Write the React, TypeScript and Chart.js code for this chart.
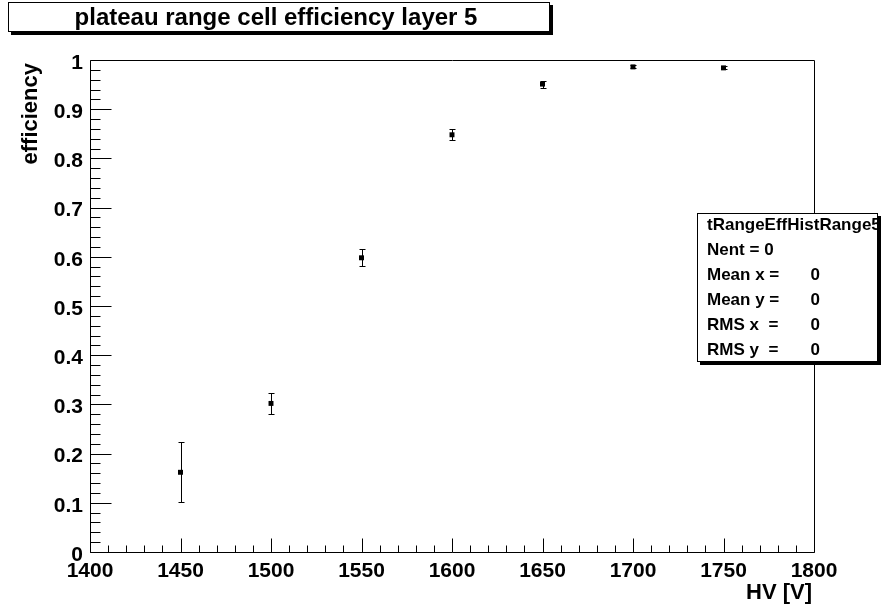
import React, { useEffect, useRef } from "react";
import { Chart, registerables } from "chart.js";

Chart.register(...registerables);

// ---- data ----
const HV_VALUES = [1450, 1500, 1550, 1600, 1650, 1700, 1750];
const EFFICIENCY = [0.162, 0.302, 0.598, 0.848, 0.951, 0.986, 0.984];
const EFFICIENCY_ERR = [0.061, 0.022, 0.0175, 0.0115, 0.007, 0.003, 0.003];

// ---- axes ----
const X_MIN = 1400;
const X_MAX = 1800;
const X_MAJOR = 50;
const X_MINOR = 10;
const Y_MIN = 0;
const Y_MAX = 1;
const Y_MAJOR = 0.1;
const Y_MINOR = 0.02;

// ---- text ----
const TITLE = "plateau range cell efficiency layer 5";
const X_TITLE = "HV [V]";
const Y_TITLE = "efficiency";
const STATS_NAME = "tRangeEffHistRange5";
const STATS_LABELS = ["Nent = 0", "Mean x = ", "Mean y = ", "RMS x  = ", "RMS y  = "];
const STATS_VALUES = ["", "0", "0", "0", "0"];

const FONT = '"Liberation Sans", Arial, Helvetica, sans-serif';

const rootPlugin = {
  id: "rootStyle",
  beforeDatasetsDraw(chart: any) {
    const ctx = chart.ctx;
    const xs = chart.scales.x;
    const ys = chart.scales.y;
    ctx.save();
    ctx.strokeStyle = "#000";
    ctx.lineWidth = 1;
    EFFICIENCY.forEach((v, i) => {
      const px = Math.round(xs.getPixelForValue(HV_VALUES[i])) + 0.5;
      const top = Math.round(ys.getPixelForValue(v + EFFICIENCY_ERR[i])) + 0.5;
      const bot = Math.round(ys.getPixelForValue(v - EFFICIENCY_ERR[i])) + 0.5;
      ctx.beginPath();
      ctx.moveTo(px, top);
      ctx.lineTo(px, bot);
      ctx.moveTo(px - 3, top);
      ctx.lineTo(px + 3, top);
      ctx.moveTo(px - 3, bot);
      ctx.lineTo(px + 3, bot);
      ctx.stroke();
    });
    ctx.restore();
  },
  afterDraw(chart: any) {
    const ctx = chart.ctx;
    const xs = chart.scales.x;
    const ys = chart.scales.y;
    const a = chart.chartArea;
    ctx.save();
    ctx.strokeStyle = "#000";
    ctx.fillStyle = "#000";
    ctx.lineWidth = 1;

    // frame
    const L = Math.round(a.left) + 0.5;
    const R = Math.round(a.right) + 0.5;
    const T = Math.round(a.top) + 0.5;
    const B = Math.round(a.bottom) + 0.5;
    ctx.beginPath();
    ctx.rect(L, T, R - L, B - T);
    ctx.stroke();

    // x ticks (inward)
    const nx = Math.round((X_MAX - X_MIN) / X_MINOR);
    const xr = Math.round(X_MAJOR / X_MINOR);
    ctx.beginPath();
    for (let k = 0; k <= nx; k++) {
      const px = Math.round(xs.getPixelForValue(X_MIN + k * X_MINOR)) + 0.5;
      const len = k % xr === 0 ? 14 : 7;
      ctx.moveTo(px, B);
      ctx.lineTo(px, B - len);
    }
    // y ticks (inward)
    const ny = Math.round((Y_MAX - Y_MIN) / Y_MINOR);
    const yr = Math.round(Y_MAJOR / Y_MINOR);
    for (let k = 0; k <= ny; k++) {
      const py = Math.round(ys.getPixelForValue(Y_MIN + k * Y_MINOR)) + 0.5;
      const len = k % yr === 0 ? 21 : 10;
      ctx.moveTo(L, py);
      ctx.lineTo(L + len, py);
    }
    ctx.stroke();

    // axis titles
    ctx.font = `bold 22px ${FONT}`;
    ctx.textAlign = "right";
    ctx.textBaseline = "middle";
    ctx.fillText(X_TITLE, 812, 593);
    ctx.save();
    ctx.translate(31, 63);
    ctx.rotate(-Math.PI / 2);
    ctx.textAlign = "right";
    ctx.textBaseline = "middle";
    ctx.fillText(Y_TITLE, 0, 0);
    ctx.restore();

    // title box with shadow
    ctx.fillStyle = "#000";
    ctx.fillRect(11, 5, 542, 30);
    ctx.fillStyle = "#fff";
    ctx.fillRect(8, 2, 542, 30);
    ctx.strokeStyle = "#000";
    ctx.strokeRect(8.5, 2.5, 541, 29);
    ctx.fillStyle = "#000";
    ctx.font = `bold 24px ${FONT}`;
    ctx.textAlign = "center";
    ctx.textBaseline = "alphabetic";
    ctx.fillText(TITLE, 276, 25);

    // stats box
    const bx = 697, by = 213, bw = 181, bh = 149;
    ctx.fillStyle = "#000";
    ctx.fillRect(bx + 3, by + 3, bw, bh);
    ctx.fillStyle = "#fff";
    ctx.fillRect(bx, by, bw, bh);
    ctx.strokeStyle = "#000";
    ctx.strokeRect(bx + 0.5, by + 0.5, bw - 1, bh - 1);
    ctx.fillStyle = "#000";
    ctx.font = `bold 17px ${FONT}`;
    ctx.textBaseline = "middle";
    ctx.textAlign = "left";
    ctx.fillText(STATS_NAME, 707, 225);
    STATS_LABELS.forEach((lab, i) => {
      const y = 250 + i * 25;
      ctx.textAlign = "left";
      ctx.fillText(lab, 707, y);
      if (STATS_VALUES[i]) {
        ctx.textAlign = "right";
        ctx.fillText(STATS_VALUES[i], 820, y);
      }
    });
    ctx.restore();
  },
};

export default function App() {
  const ref = useRef<HTMLCanvasElement | null>(null);
  useEffect(() => {
    if (!ref.current) return;
    const chart = new Chart(ref.current, {
      type: "scatter",
      data: {
        datasets: [
          {
            label: "efficiency",
            data: HV_VALUES.map((x, i) => ({ x, y: EFFICIENCY[i] })),
            pointStyle: "rect",
            pointRadius: 3.5,
            pointBackgroundColor: "#000",
            pointBorderColor: "#000",
            pointBorderWidth: 0,
            showLine: false,
            clip: false,
          } as any,
        ],
      },
      options: {
        animation: false,
        responsive: false,
        devicePixelRatio: 1,
        layout: { padding: { left: 0, top: 60, right: 74, bottom: 0 } },
        plugins: {
          legend: { display: false },
          tooltip: { enabled: false },
          title: { display: false },
        },
        scales: {
          x: {
            type: "linear",
            min: X_MIN,
            max: X_MAX,
            grid: { display: false, drawTicks: false },
            border: { display: false },
            ticks: {
              stepSize: X_MAJOR,
              autoSkip: false,
              maxRotation: 0,
              padding: 7,
              color: "#000",
              font: { family: FONT, size: 21, weight: "bold" },
              callback: (v: any) => String(v),
            },
            afterFit: (s: any) => {
              s.height = 56;
            },
          },
          y: {
            type: "linear",
            min: Y_MIN,
            max: Y_MAX,
            grid: { display: false, drawTicks: false },
            border: { display: false },
            ticks: {
              stepSize: Y_MAJOR,
              padding: 7,
              labelOffset: 3,
              color: "#000",
              font: { family: FONT, size: 21, weight: "bold" },
              callback: (v: any) => String(Math.round(Number(v) * 10) / 10),
            },
            afterFit: (s: any) => {
              s.width = 90;
            },
          },
        },
      } as any,
      plugins: [rootPlugin],
    });
    return () => chart.destroy();
  }, []);
  return (
    <div style={{ position: "absolute", left: 0, top: 0, width: 888, height: 608, background: "#fff" }}>
      <canvas ref={ref} width={888} height={608} style={{ display: "block" }} />
    </div>
  );
}
